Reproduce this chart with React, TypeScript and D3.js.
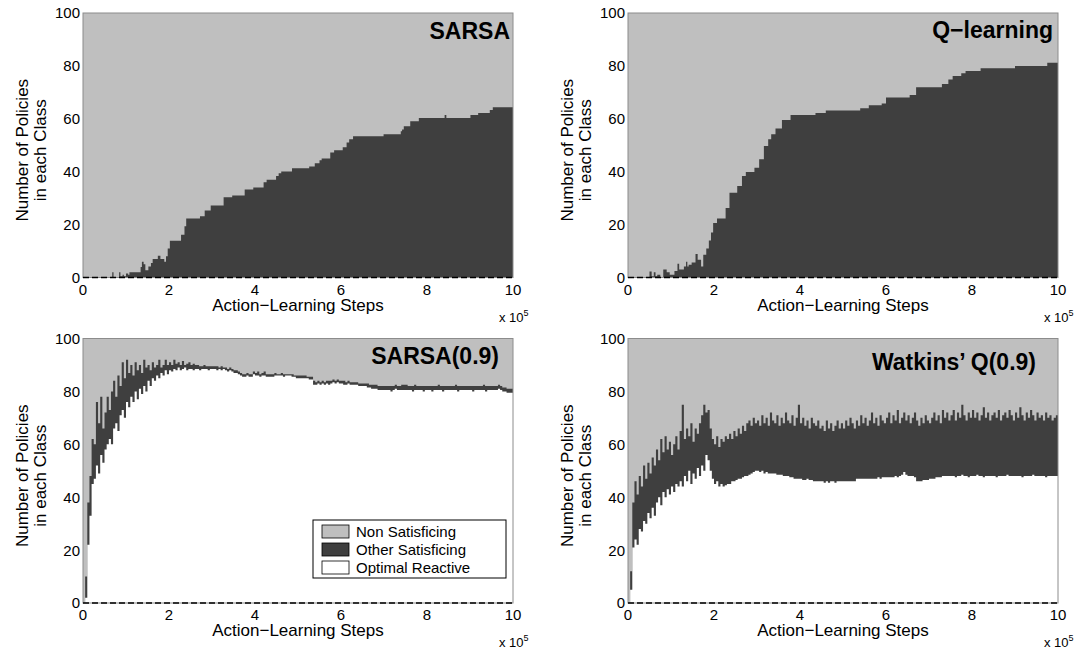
import React from 'react';
import * as d3 from 'd3';

// ---------- data ----------
const X_TICKS = [0, 2, 4, 6, 8, 10];
const Y_TICKS = [0, 20, 40, 60, 80, 100];
const LEGEND_LABELS = ['Non Satisficing', 'Other Satisficing', 'Optimal Reactive'];
const TITLES = ['SARSA', 'Q\u2212learning', 'SARSA(0.9)', 'Watkins\u2019 Q(0.9)'];
const X_LABEL = 'Action\u2212Learning Steps';
const Y_LABEL_1 = 'Number of Policies';
const Y_LABEL_2 = 'in each Class';

// step series: [step (x1e5), number of satisficing policies] (optimal reactive = 0)
const sarsaSteps: number[][] = [
  [0, 0], [0.68, 2], [0.71, 0], [0.84, 2], [0.87, 0.5], [0.92, 1], [0.95, 0.5], [1.0, 1.5], [1.05, 1],
  [1.08, 2], [1.18, 2], [1.34, 4], [1.37, 6], [1.41, 5], [1.45, 2.7], [1.52, 4.2], [1.58, 5.5], [1.62, 7],
  [1.74, 8.2], [1.8, 7], [1.89, 6], [1.93, 8], [1.97, 11], [2.02, 13.9], [2.28, 16.2], [2.36, 19.4],
  [2.4, 22.3], [2.72, 23.2], [2.83, 25.3], [2.97, 27.2], [3.27, 30.3], [3.47, 31], [3.76, 33.3], [3.96, 34],
  [4.2, 36], [4.27, 37], [4.49, 38.4], [4.55, 39.4], [4.61, 40.1], [4.86, 41.3], [5.26, 42], [5.39, 43.2],
  [5.5, 44.3], [5.55, 45], [5.75, 47.3], [5.84, 48.1], [6.04, 49.2], [6.13, 51], [6.19, 52.3], [6.28, 53.4],
  [6.99, 54.2], [7.39, 55.3], [7.42, 56], [7.46, 57.2], [7.61, 59.1], [7.81, 60.3], [8.41, 61.4], [8.45, 60.3],
  [9.01, 61.4], [9.19, 62.2], [9.46, 63.3], [9.53, 64.4], [10, 64.4],
];

const qSteps: number[][] = [
  [0, 0], [0.5, 2.3], [0.55, 0.5], [0.6, 2], [0.64, 0.5], [0.68, 1], [0.75, 0], [0.82, 3], [0.9, 2], [0.97, 1],
  [1.08, 2.5], [1.15, 5.2], [1.19, 3], [1.3, 4.2], [1.35, 6], [1.38, 4.2], [1.41, 4.8], [1.48, 5.7], [1.57, 8.9],
  [1.62, 6.7], [1.7, 4.2], [1.75, 8.6], [1.82, 11], [1.88, 14], [1.93, 17], [1.98, 20.6], [2.07, 22.3],
  [2.27, 26.3], [2.36, 32], [2.54, 34.6], [2.65, 38.4], [2.74, 39.9], [2.94, 41.5], [3.05, 44.7], [3.16, 49.7],
  [3.26, 52.3], [3.33, 54.2], [3.43, 56.3], [3.58, 59.5], [3.78, 61.4], [4.36, 62.2], [4.6, 63.1], [5.4, 64],
  [5.6, 65.1], [5.9, 65.8], [6.0, 68.1], [6.55, 69], [6.7, 71.9], [7.3, 73.2], [7.45, 74.9], [7.55, 76.2],
  [7.75, 77.2], [7.85, 78.1], [8.2, 79.1], [9.0, 80], [9.75, 81.2], [10, 81.2],
];

// sampled series, one value every 0.05 x 1e5 steps (201 samples, 0..10)
const SAMPLE_STEP = 0.05;

const sarsaLambdaOptimal = [
  0, 2, 22, 33, 45, 47, 52, 49, 56, 53,
  58, 60, 62, 60, 66, 68, 65, 71, 73, 70,
  76, 74, 78, 76, 80, 77, 81, 79, 82, 80,
  84, 82, 85, 84, 86, 85, 87, 86, 88, 86.5,
  88, 87.5, 88.5, 88, 89, 88, 88.5, 89, 88, 88.5,
  88.5, 88, 88.5, 88.5, 88, 88.5, 88.5, 88.5, 88, 88.5,
  88.5, 88.5, 88, 88.5, 88, 88.5, 88, 87.5, 88, 87.5,
  87, 87, 86.5, 86, 85.5, 85.5, 86, 85.5, 85.5, 86.5,
  86, 86, 85.5, 86, 86, 85.5, 85.5, 85.5, 85.5, 86,
  86, 86, 86, 85.5, 86, 86, 86, 85.5, 85.5, 85,
  85, 85, 85, 85, 85, 84.5, 84.5, 82.5, 82.5, 83,
  82.5, 83, 82.5, 83, 82.5, 83, 83.5, 83, 83.5, 83,
  83, 82.5, 82.5, 83, 82.5, 82.5, 82.5, 82.5, 82, 82,
  82, 82, 81.5, 81.5, 81, 81, 81, 80.5, 80.5, 80.5,
  80.5, 80.5, 80.5, 80, 80.5, 81, 80.5, 80.5, 80.5, 80.5,
  80.5, 80.5, 80.5, 80, 80.5, 80.5, 80.5, 80.5, 80, 80.5,
  80.5, 80.5, 80, 80.5, 80.5, 80.5, 80.5, 80, 80.5, 80.5,
  80.5, 80.5, 80.5, 80.5, 80, 80.5, 80.5, 80.5, 80.5, 80.5,
  80.5, 80, 80.5, 80.5, 80.5, 80.5, 80.5, 80, 80.5, 80.5,
  80.5, 80.5, 80.5, 81, 80.5, 80, 80, 79.5, 79.5, 79.5, 79.5,
];

const sarsaLambdaTotal = [
  0, 10, 38, 48, 62, 60, 76, 68, 78, 66,
  72, 78, 73, 80, 84, 78, 86, 82, 91, 85,
  92, 87, 90, 86, 91, 88, 90, 87, 92, 89,
  90, 88, 91, 89, 90, 92, 89, 90, 92, 90,
  91, 90, 92, 90.5, 91, 90, 91.5, 90, 90.5, 91,
  90, 90.5, 90, 90, 89.5, 89.5, 90, 89.5, 89.5, 89.5,
  89.5, 89.5, 89.5, 89, 89.5, 89, 89, 88.5, 89, 88.5,
  88, 88, 87.5, 87, 86.5, 86.5, 87, 86.5, 86.5, 87.5,
  87, 87.5, 86.5, 87, 87.5, 86.5, 86.5, 86.5, 86.5, 87,
  86.5, 86.5, 87, 86.5, 86.5, 86.5, 86.5, 86.5, 86, 86,
  86, 86, 86, 86, 85.5, 85.5, 85.5, 84, 83.5, 84,
  83.5, 84, 83.5, 84, 84, 84, 84.5, 84, 84.5, 84,
  84, 84, 83.5, 84, 83.5, 83.5, 83.5, 83.5, 83, 83,
  83, 83, 83, 82.5, 82.5, 82.5, 82.5, 82, 82, 82,
  82, 82, 82, 82, 82, 82.5, 82, 82, 82.5, 82.5,
  82.5, 82, 82, 82, 82.5, 82, 82, 82, 82, 82,
  82, 82, 82, 82, 82, 82.5, 82, 82, 82, 82,
  82, 82, 82, 82.5, 82, 82, 82, 82, 82, 82,
  82, 82, 82, 82, 82, 82, 82.5, 82, 82, 82,
  82, 82, 82, 82.5, 82, 81.5, 81.5, 81, 81, 81, 81,
];

const watkinsOptimal = [
  0, 5, 21, 24, 22, 28, 27, 31, 30, 34,
  32, 36, 33, 38, 40, 37, 42, 40, 43, 41,
  44, 42, 45, 44, 46, 44, 48, 46, 50, 45,
  49, 47, 51, 48, 52, 50, 56, 54, 50, 47,
  45, 46, 44, 45, 44, 44.5, 45, 45, 46, 46,
  46.5, 47, 47, 47.5, 48, 48, 48.5, 49, 49.5, 50,
  50, 49.5, 50, 49, 49.5, 49, 49, 49, 49, 48.5,
  48.5, 48.5, 48, 48, 48, 47.5, 47.5, 47, 47, 47,
  47, 46.5, 46.5, 47, 46.5, 46.5, 46, 46, 46, 46,
  46, 45.5, 46, 45.5, 46, 46, 45.5, 46, 46, 46,
  46, 46, 46, 46, 46, 46, 47, 47, 47, 47,
  47, 47, 47, 47, 47, 47, 47.5, 47, 47.5, 47.5,
  47.5, 47.5, 47.5, 47.5, 48, 47.5, 48, 48.5, 49.5, 48.5,
  48, 48, 48, 47.5, 46, 46, 46, 46.5, 46.5, 46.5,
  47, 47, 47, 47.5, 47.5, 47.5, 48, 48, 48, 48,
  48, 48, 47.5, 48, 48, 48.5, 48, 48, 47.5, 48,
  48, 48, 48.5, 48, 48, 47.5, 48, 48, 48, 48,
  48, 47.5, 48, 48, 48, 48, 48.5, 48, 48, 48,
  48, 48, 48, 47.5, 48, 48, 48, 48, 48.5, 48,
  48, 48, 48, 48, 47.5, 48, 48, 48, 48, 48, 48,
];

const watkinsTotal = [
  0, 12, 38, 46, 41, 48, 44, 52, 47, 53,
  49, 55, 52, 58, 54, 62, 57, 63, 58, 61,
  56, 60, 63, 58, 65, 75, 62, 66, 63, 68,
  61, 66, 64, 68, 71, 75, 72, 73, 66, 62,
  60, 63, 59, 62, 61, 63, 62, 64, 62, 65,
  63, 66, 64, 67, 65, 68, 69, 67, 70, 68,
  69, 67, 71, 68, 70, 67, 72, 69, 68, 71,
  67, 70, 68, 72, 69, 68, 71, 67, 70, 75,
  68, 70, 67, 69, 66, 70, 68, 67, 69, 66,
  67, 65, 69, 66, 68, 65, 67, 69, 66, 68,
  66, 69, 67, 70, 68, 66, 69, 67, 71, 68,
  70, 67, 69, 72, 68, 70, 67, 71, 69, 68,
  70, 72, 68, 71, 69, 73, 68, 70, 72, 69,
  71, 68, 70, 72, 69, 67, 70, 68, 71, 69,
  68, 70, 72, 69, 71, 68, 73, 70, 72, 69,
  71, 73, 69, 72, 70, 75, 71, 69, 72, 70,
  73, 70, 72, 69, 71, 74, 70, 72, 69, 71,
  72, 70, 73, 69, 71, 72, 70, 73, 71, 69,
  72, 70, 74, 71, 69, 72, 70, 73, 71, 69,
  72, 70, 71, 69, 72, 70, 71, 69, 70, 71, 70,
];

// ---------- layout / style ----------
const W = 1089;
const H = 650;
const PW = 430;
const PH = 264.5;
const FONT = '"Liberation Sans", Arial, Helvetica, sans-serif';
const C_NON = '#bfbfbf';
const C_OTHER = '#3f3f3f';
const C_OPT = '#ffffff';

type PanelDef = {
  title: string;
  left: number;
  top: number;
  steps?: number[][];
  optimal?: number[];
  total?: number[];
  titleRight: number;
  titleBase: number;
  legend?: boolean;
};

const PANELS: PanelDef[] = [
  { title: TITLES[0], left: 83, top: 13, steps: sarsaSteps, titleRight: 510, titleBase: 39 },
  { title: TITLES[1], left: 628, top: 13, steps: qSteps, titleRight: 1053, titleBase: 38 },
  { title: TITLES[2], left: 83, top: 338.5, optimal: sarsaLambdaOptimal, total: sarsaLambdaTotal, titleRight: 499, titleBase: 364, legend: true },
  { title: TITLES[3], left: 628, top: 338.5, optimal: watkinsOptimal, total: watkinsTotal, titleRight: 1036, titleBase: 370 },
];

function Panel({ p, idx }: { p: PanelDef; idx: number }) {
  const x = d3.scaleLinear().domain([0, 10]).range([p.left, p.left + PW]);
  const y = d3.scaleLinear().domain([0, 100]).range([p.top + PH, p.top]);
  let darkPath: string | null = null;
  let whitePath: string | null = null;
  if (p.steps) {
    const area = d3
      .area<number[]>()
      .x((d) => x(d[0]))
      .y0(y(0))
      .y1((d) => y(d[1]))
      .curve(d3.curveStepAfter);
    darkPath = area(p.steps);
  } else if (p.total && p.optimal) {
    const area = d3
      .area<number>()
      .x((_, i) => x(i * SAMPLE_STEP))
      .y0(y(0))
      .y1((d) => y(d))
      .curve(d3.curveStepAfter);
    darkPath = area(p.total);
    whitePath = area(p.optimal);
  }
  const clipId = `clip${idx}`;
  const cx = p.left + PW / 2;
  const cy = p.top + PH / 2 + 5;
  const bottom = p.top + PH;
  const right = p.left + PW;

  return (
    <g>
      <defs>
        <clipPath id={clipId}>
          <rect x={p.left} y={p.top} width={PW} height={PH} />
        </clipPath>
      </defs>
      <g clipPath={`url(#${clipId})`}>
        <rect x={p.left} y={p.top} width={PW} height={PH} fill={C_NON} />
        {darkPath && <path d={darkPath} fill={C_OTHER} />}
        {whitePath && <path d={whitePath} fill={C_OPT} />}
      </g>
      <rect x={p.left} y={p.top} width={PW} height={PH} fill="none" stroke="#8c8c8c" strokeWidth={1} />
      <line x1={p.left} x2={right} y1={y(0)} y2={y(0)} stroke="#000" strokeWidth={1.6} strokeDasharray="6,3" />

      {Y_TICKS.map((t) => (
        <text key={'y' + t} x={p.left - 3} y={y(t)} dy="0.36em" textAnchor="end" fontSize={15} fontFamily={FONT} fill="#000">
          {t}
        </text>
      ))}
      {X_TICKS.map((t) => (
        <text key={'x' + t} x={x(t)} y={bottom + 17} textAnchor="middle" fontSize={15} fontFamily={FONT} fill="#000">
          {t}
        </text>
      ))}
      <text x={cx} y={bottom + 33} textAnchor="middle" fontSize={17} fontFamily={FONT} fill="#000">
        {X_LABEL}
      </text>
      <text x={right - 14} y={bottom + 44} textAnchor="start" fontSize={13} fontFamily={FONT} fill="#000">
        x 10
        <tspan fontSize={9} dy={-6}>5</tspan>
      </text>
      <text transform={`translate(${p.left - 55},${cy}) rotate(-90)`} textAnchor="middle" fontSize={17} fontFamily={FONT} fill="#000">
        <tspan x={0} y={0}>{Y_LABEL_1}</tspan>
        <tspan x={0} y={18}>{Y_LABEL_2}</tspan>
      </text>
      <text x={p.titleRight} y={p.titleBase} textAnchor="end" fontSize={23} fontWeight="bold" fontFamily={FONT} fill="#000">
        {p.title}
      </text>
      {p.legend && <Legend right={right - 7} bottom={bottom - 25} />}
    </g>
  );
}

function Legend({ right, bottom }: { right: number; bottom: number }) {
  const w = 193;
  const h = 58;
  const lx = right - w;
  const ly = bottom - h;
  const colors = [C_NON, C_OTHER, C_OPT];
  return (
    <g>
      <rect x={lx} y={ly} width={w} height={h} fill="#fff" stroke="#000" strokeWidth={1} />
      {LEGEND_LABELS.map((lab, i) => (
        <g key={lab}>
          <rect x={lx + 9} y={ly + 5 + i * 18} width={27} height={13} fill={colors[i]} stroke="#000" strokeWidth={0.8} />
          <text x={lx + 43} y={ly + 16.5 + i * 18} fontSize={15} fontFamily={FONT} fill="#000">
            {lab}
          </text>
        </g>
      ))}
    </g>
  );
}

export default function App() {
  return (
    <svg width={W} height={H} style={{ position: 'absolute', left: 0, top: 0, background: '#fff' }}>
      <rect x={0} y={0} width={W} height={H} fill="#fff" />
      {PANELS.map((p, i) => (
        <Panel key={i} p={p} idx={i} />
      ))}
    </svg>
  );
}
